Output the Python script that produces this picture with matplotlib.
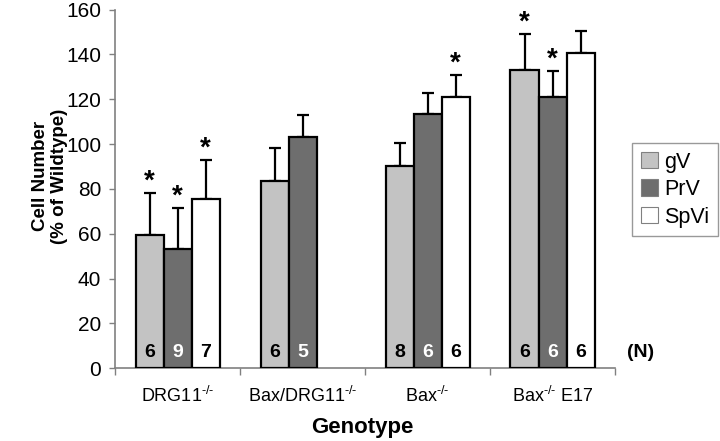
import numpy as np
import matplotlib
matplotlib.use("Agg")
import matplotlib.pyplot as plt
from matplotlib.patches import Patch

plt.rcParams['font.family'] = ['Liberation Sans', 'DejaVu Sans']
plt.rcParams['mathtext.fontset'] = 'custom'
plt.rcParams['mathtext.rm'] = 'Liberation Sans'
plt.rcParams['mathtext.it'] = 'Liberation Sans'

# data
sup = r'$^{\text{-/-}}$'
genotypes = ['DRG11' + sup, 'Bax/DRG11' + sup, 'Bax' + sup, 'Bax' + sup + ' E17']
series = ['gV', 'PrV', 'SpVi']
gV = [59.5, 83.7, 90.0, 133.0]
gV_err = [18.5, 14.5, 10.4, 16.0]
PrV = [53.0, 103.0, 113.4, 121.0]
PrV_err = [18.6, 10.0, 9.2, 11.6]
SpVi = [75.3, np.nan, 121.0, 140.6]
SpVi_err = [17.6, np.nan, 9.8, 9.8]
n_gV = [6, 6, 8, 6]
n_PrV = [9, 5, 6, 6]
n_SpVi = [7, None, 6, 6]
star_gV = [True, False, False, True]
star_PrV = [True, False, False, True]
star_SpVi = [True, False, True, False]

colors = ['#c3c3c3', '#6e6e6e', '#ffffff']
n_colors = ['black', 'white', 'black']

fig = plt.figure(figsize=(7.2, 4.41), dpi=100)
ax = fig.add_axes([115 / 720, 1 - 368.3 / 441, 500 / 720, 358.8 / 441])

x = np.arange(len(genotypes))
w = 0.224
offsets = [-w, 0, w]
values = [gV, PrV, SpVi]
errs = [gV_err, PrV_err, SpVi_err]
ns = [n_gV, n_PrV, n_SpVi]
stars = [star_gV, star_PrV, star_SpVi]

for i in range(3):
    v = np.array(values[i], dtype=float)
    e = np.array(errs[i], dtype=float)
    ok = ~np.isnan(v)
    xs = x[ok] + offsets[i]
    ax.errorbar(xs, v[ok], yerr=[np.zeros(ok.sum()), e[ok]], fmt='none',
                ecolor='black', elinewidth=1.6, capsize=4.3, capthick=1.6, zorder=2)
    ax.bar(xs, v[ok], width=w, color=colors[i], edgecolor='black',
           linewidth=1.6, zorder=3)
    for j in range(len(genotypes)):
        if not ok[j]:
            continue
        ax.text(x[j] + offsets[i], 7, str(ns[i][j]), ha='center', va='center',
                fontsize=14, fontweight='bold', color=n_colors[i], zorder=4)
        if stars[i][j]:
            ax.annotate('*', (x[j] + offsets[i], v[j] + e[j]), xytext=(0, -1),
                        textcoords='offset points', ha='center', va='bottom',
                        fontsize=20, fontweight='bold')

ax.text(3.6, 7, '(N)', ha='left', va='center', fontsize=14,
        fontweight='bold', clip_on=False)

ax.set_xlim(-0.5, 3.5)
ax.set_ylim(0, 160)
ax.set_yticks(np.arange(0, 161, 20))
ax.set_xticks(x)
ax.set_xticklabels(genotypes, fontsize=13)
ax.set_xticks(np.arange(-0.5, 3.6, 1), minor=True)
ax.tick_params(axis='x', which='major', length=0, pad=13)
ax.tick_params(axis='x', which='minor', length=5, color='#808080', width=1, direction='out')
ax.tick_params(axis='y', length=4, color='#808080', width=1, direction='out',
               labelsize=15, pad=6)

for s in ['top', 'right']:
    ax.spines[s].set_visible(False)
for s in ['left', 'bottom']:
    ax.spines[s].set_color('#808080')
    ax.spines[s].set_linewidth(1.2)

fig.text(50 / 720, 0.60, 'Cell Number\n(% of Wildtype)', rotation=90, ha='center',
         va='center', fontsize=13.5, fontweight='bold', multialignment='center')
fig.text(362 / 720, 1 - 427 / 441, 'Genotype', ha='center', va='center',
         fontsize=16, fontweight='bold')

handles = [Patch(facecolor=c, edgecolor='#808080', linewidth=0.8) for c in colors]
leg = fig.legend(handles, series, loc='upper left', bbox_to_anchor=(632 / 720, 1 - 143 / 441),
                 fontsize=15.5, frameon=True, fancybox=False, edgecolor='#808080',
                 handlelength=0.8, handleheight=0.8, handletextpad=0.3,
                 labelspacing=0.3, borderpad=0.4, borderaxespad=0)
leg.get_frame().set_linewidth(1.0)

fig.savefig('out.png', dpi=100)
